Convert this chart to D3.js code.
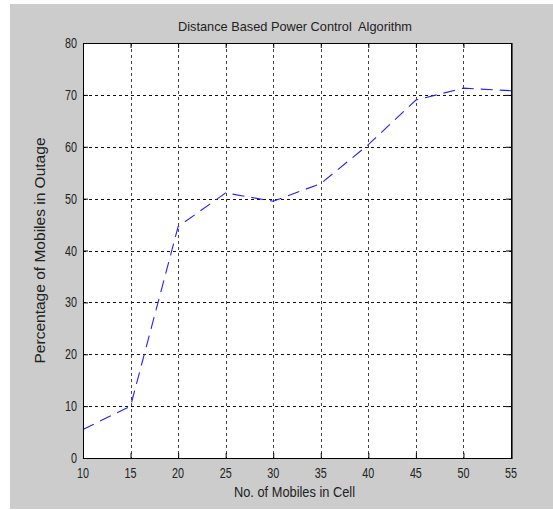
<!DOCTYPE html>
<html><head><meta charset="utf-8">
<script src="https://cdn.jsdelivr.net/npm/d3@7"></script>
<style>html,body{margin:0;padding:0;background:#fff;}svg{display:block;}text{white-space:pre;}</style>
</head><body>
<script>
const mobiles = [10, 15, 20, 25, 30, 35, 40, 45, 50, 55];
const outage = [5.5, 10, 44.6, 51.1, 49.5, 52.9, 60.4, 69.0, 71.3, 70.8];
const xTicks = [10, 15, 20, 25, 30, 35, 40, 45, 50, 55];
const yTicks = [0, 10, 20, 30, 40, 50, 60, 70, 80];
const title = "Distance Based Power Control  Algorithm";
const xLabel = "No. of Mobiles in Cell";
const yLabel = "Percentage of Mobiles in Outage";

const W = 553, H = 510;
const L = 83, R = 511, T = 43, B = 458;
const font = "'Liberation Sans', Arial, Helvetica, sans-serif";

const svg = d3.select("body").append("svg").attr("width", W).attr("height", H);
svg.append("rect").attr("x", 10).attr("y", 4).attr("width", W - 10).attr("height", H - 5).attr("fill", "#cccccc");

const x = d3.scaleLinear().domain([10, 55]).range([L, R]);
const y = d3.scaleLinear().domain([0, 80]).range([B, T]);

svg.append("rect").attr("x", L).attr("y", T).attr("width", R - L).attr("height", B - T).attr("fill", "#fff");

// grid
const g = svg.append("g");
g.selectAll(".vg").data(xTicks.slice(1, -1)).join("line")
  .attr("x1", d => Math.round(x(d)) + 0.5).attr("x2", d => Math.round(x(d)) + 0.5)
  .attr("y1", T).attr("y2", B)
  .attr("stroke", "#444").attr("stroke-width", 1).attr("stroke-dasharray", "3,3");
g.selectAll(".hg").data(yTicks.slice(1, -1)).join("line")
  .attr("y1", d => Math.round(y(d)) + 0.5).attr("y2", d => Math.round(y(d)) + 0.5)
  .attr("x1", L).attr("x2", R)
  .attr("stroke", "#111").attr("stroke-width", 1).attr("stroke-dasharray", "3,3");

// data line
const line = d3.line().x((d, i) => x(mobiles[i])).y(d => y(d));
svg.append("path").datum(outage).attr("d", line)
  .attr("fill", "none").attr("stroke", "#2020ff").attr("stroke-width", 1.1)
  .attr("stroke-dasharray", "12,7");

// axes with inward ticks
const xAxisB = d3.axisBottom(x).tickValues(xTicks).tickSizeInner(-5).tickSizeOuter(0).tickFormat("");
const xAxisT = d3.axisTop(x).tickValues(xTicks).tickSizeInner(-5).tickSizeOuter(0).tickFormat("");
const yAxisL = d3.axisLeft(y).tickValues(yTicks).tickSizeInner(-5).tickSizeOuter(0).tickFormat("");
const yAxisR = d3.axisRight(y).tickValues(yTicks).tickSizeInner(-5).tickSizeOuter(0).tickFormat("");
[[xAxisB, `translate(0,${B})`], [xAxisT, `translate(0,${T})`], [yAxisL, `translate(${L},0)`], [yAxisR, `translate(${R},0)`]]
  .forEach(([ax, tr]) => {
    const a = svg.append("g").attr("transform", tr).call(ax);
    a.select(".domain").remove();
    a.selectAll("line").attr("stroke", "#000");
  });

svg.append("rect").attr("x", L + 0.5).attr("y", T + 0.5).attr("width", R - L).attr("height", B - T)
  .attr("fill", "none").attr("stroke", "#000").attr("stroke-width", 1);
svg.append("line").attr("x1", R + 1.5).attr("x2", R + 1.5).attr("y1", T).attr("y2", B + 1)
  .attr("stroke", "#555").attr("stroke-width", 1);

// tick labels
svg.selectAll(".xl").data(xTicks).join("text")
  .attr("x", d => x(d)).attr("y", 477.5).attr("text-anchor", "middle")
  .attr("font-family", font).attr("font-size", 14.5).attr("fill", "#222")
  .attr("textLength", d => String(d).length * 6).attr("lengthAdjust", "spacingAndGlyphs")
  .text(d => d);
svg.selectAll(".yl").data(yTicks).join("text")
  .attr("x", 77).attr("y", d => y(d) + 5).attr("text-anchor", "end")
  .attr("font-family", font).attr("font-size", 14.5).attr("fill", "#222")
  .attr("textLength", d => String(d).length * 6).attr("lengthAdjust", "spacingAndGlyphs")
  .text(d => d);

// title and labels
svg.append("text").attr("x", 295).attr("y", 31).attr("text-anchor", "middle")
  .attr("font-family", font).attr("font-size", 13.5).attr("fill", "#222")
  .attr("textLength", 234).attr("lengthAdjust", "spacingAndGlyphs").text(title);
svg.append("text").attr("x", 294.5).attr("y", 497).attr("text-anchor", "middle")
  .attr("font-family", font).attr("font-size", 15).attr("fill", "#222")
  .attr("textLength", 121).attr("lengthAdjust", "spacingAndGlyphs").text(xLabel);
svg.append("text").attr("transform", `translate(45,${(T + B) / 2}) rotate(-90)`)
  .attr("text-anchor", "middle")
  .attr("font-family", font).attr("font-size", 14.5).attr("fill", "#222")
  .attr("textLength", 226).attr("lengthAdjust", "spacingAndGlyphs").text(yLabel);
</script>
</body></html>
